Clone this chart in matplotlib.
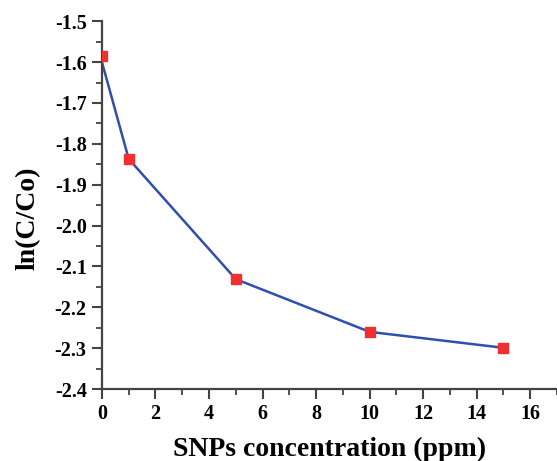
import matplotlib.pyplot as plt
from matplotlib.ticker import MultipleLocator

conc = [0, 1, 5, 10, 15]
ln_marker = [-1.585, -1.837, -2.131, -2.260, -2.299]
ln_line = [-1.600, -1.837, -2.131, -2.260, -2.299]

plt.rcParams['font.family'] = 'Liberation Serif'
plt.rcParams['font.weight'] = 'bold'

fig = plt.figure(figsize=(5.57, 4.61), dpi=100)
ax = fig.add_axes([0.183, 0.156, 0.817, 0.798])

ax.plot(conc, ln_line, color='#2f4fb0', linewidth=1.8, zorder=2)
ax.plot(conc, ln_marker, linestyle='none', marker='s', markersize=6.5,
        color='#f03030', zorder=3)

ax.set_xlim(0, 17)
ax.set_ylim(-2.4, -1.5)
ax.xaxis.set_major_locator(MultipleLocator(2))
ax.xaxis.set_minor_locator(MultipleLocator(1))
ax.yaxis.set_major_locator(MultipleLocator(0.1))
ax.yaxis.set_minor_locator(MultipleLocator(0.05))
ax.yaxis.set_major_formatter(plt.FuncFormatter(lambda v, p: '%.1f' % v))

for s in ['top', 'right']:
    ax.spines[s].set_visible(False)
for s in ['left', 'bottom']:
    ax.spines[s].set_linewidth(1.6)
    ax.spines[s].set_color('#444444')

ax.tick_params(which='major', direction='out', length=7, width=1.5,
               color='#444444', labelsize=14.5, pad=4)
ax.tick_params(which='minor', direction='out', length=4, width=1.3,
               color='#444444')

ax.set_xlabel('SNPs concentration (ppm)', fontsize=20, fontweight='bold', labelpad=9)
ax.set_ylabel('ln(C/Co)', fontsize=20, fontweight='bold', labelpad=14)
ax.yaxis.set_label_coords(-0.135, 0.465)

fig.savefig('out.png', dpi=100)
